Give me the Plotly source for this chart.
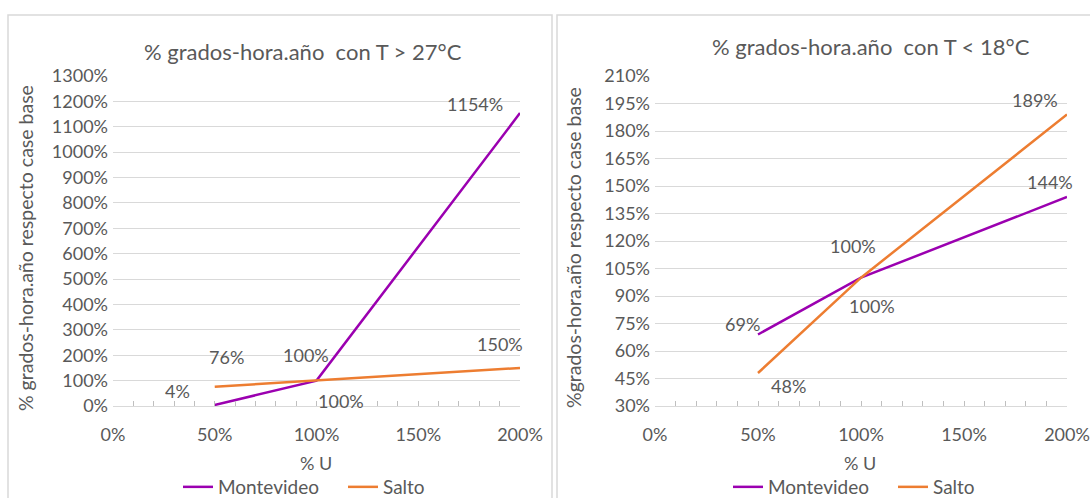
import plotly.graph_objects as go

# ---- data ----
u_levels = [0.5, 1.0, 2.0]
hot_montevideo = [0.04, 1.00, 11.54]
hot_salto = [0.76, 1.00, 1.50]
cold_montevideo = [0.69, 1.00, 1.44]
cold_salto = [0.48, 1.00, 1.89]
series_names = ["Montevideo", "Salto"]
x_ticks = [0, 0.5, 1.0, 1.5, 2.0]
title_left = "% grados-hora.año  con T > 27°C"
title_right = "% grados-hora.año  con T < 18°C"
ytitle_left = "% grados-hora.año respecto case base"
ytitle_right = "%grados-hora.año respecto case base"
xtitle = "% U"

# ---- style ----
W, H = 1090, 498
PURPLE = "#9B00B0"
ORANGE = "#ED7D31"
TXT = "#595959"
GRID = "#D9D9D9"
FONT = "Lato"
FS = 18

def px(x):
    return x / W

def py(y):
    return 1 - y / H

fig = go.Figure()

fig.add_trace(go.Scatter(x=u_levels, y=hot_montevideo, mode="lines", name=series_names[0],
                         line=dict(color=PURPLE, width=2.5), xaxis="x", yaxis="y", legend="legend"))
fig.add_trace(go.Scatter(x=u_levels, y=hot_salto, mode="lines", name=series_names[1],
                         line=dict(color=ORANGE, width=2.5), xaxis="x", yaxis="y", legend="legend"))
fig.add_trace(go.Scatter(x=u_levels, y=cold_montevideo, mode="lines", name=series_names[0],
                         line=dict(color=PURPLE, width=2.5), xaxis="x2", yaxis="y2", legend="legend2"))
fig.add_trace(go.Scatter(x=u_levels, y=cold_salto, mode="lines", name=series_names[1],
                         line=dict(color=ORANGE, width=2.5), xaxis="x2", yaxis="y2", legend="legend2"))

tickfont = dict(family=FONT, size=FS, color=TXT)

def xaxis_cfg(domain, anchor):
    return dict(domain=domain, anchor=anchor, range=[0, 2], tickvals=x_ticks, tickformat=".0%",
                showgrid=False, zeroline=False, showline=True, linecolor=GRID, linewidth=1,
                ticks="inside", ticklen=5, tickcolor="#BFBFBF",
                minor=dict(ticks="inside", dtick=0.1, tick0=0, ticklen=5, tickcolor="#BFBFBF"),
                tickfont=tickfont, ticklabelstandoff=12, fixedrange=True, automargin=False)

def yaxis_cfg(domain, anchor, rng, dtick):
    return dict(domain=domain, anchor=anchor, range=rng, dtick=dtick, tick0=rng[0], tickformat=".0%",
                showgrid=True, gridcolor=GRID, gridwidth=1, zeroline=False, showline=False,
                ticks="", tickfont=tickfont, ticklabelstandoff=4, fixedrange=True, automargin=False)

def legend_cfg(x_left):
    return dict(orientation="h", x=px(x_left), y=py(487), xanchor="left", yanchor="middle",
                font=dict(family=FONT, size=19, color=TXT), bgcolor="rgba(0,0,0,0)",
                itemwidth=30, tracegroupgap=0, entrywidth=120, entrywidthmode="pixels")

ydom = [py(406), py(76)]
fig.update_layout(
    width=W, height=H, autosize=False,
    margin=dict(l=0, r=0, t=0, b=0, pad=0, autoexpand=False),
    paper_bgcolor="white", plot_bgcolor="white",
    font=dict(family=FONT, color=TXT),
    xaxis=xaxis_cfg([px(113), px(520)], "y"),
    yaxis=yaxis_cfg(ydom, "x", [0, 13], 1),
    xaxis2=xaxis_cfg([px(655), px(1067)], "y2"),
    yaxis2=yaxis_cfg(ydom, "x2", [0.3, 2.1], 0.15),
    legend=legend_cfg(178),
    legend2=legend_cfg(728),
)

# panel borders
for x0, x1 in [(8, 552), (557, 1095)]:
    fig.add_shape(type="rect", xref="paper", yref="paper", x0=px(x0), x1=px(x1), y0=py(505), y1=py(15),
                  line=dict(color=GRID, width=1.5), fillcolor="rgba(0,0,0,0)", layer="below")

ann = []
def text_ann(x, y, text, size=FS, angle=0):
    ann.append(dict(xref="paper", yref="paper", x=px(x), y=py(y), text=text, showarrow=False,
                    xanchor="center", yanchor="middle", textangle=angle,
                    font=dict(family=FONT, size=size, color=TXT)))

text_ann(303, 52, title_left, size=22)
text_ann(871, 46, title_right, size=22)
text_ann(25, 248, ytitle_left, size=19.5, angle=-90)
text_ann(573, 248, ytitle_right, size=19.5, angle=-90)
text_ann(316, 463, xtitle)
text_ann(860, 463, xtitle)

# data labels (shift in pixels from point)
def data_labels(xs, ys, xref, yref, shifts):
    for xv, yv, (dx, dy) in zip(xs, ys, shifts):
        ann.append(dict(xref=xref, yref=yref, x=xv, y=yv, text=f"{round(yv*100)}%", showarrow=False,
                        xanchor="center", yanchor="middle", xshift=dx, yshift=dy,
                        font=dict(family=FONT, size=FS, color=TXT)))

data_labels(u_levels, hot_montevideo, "x", "y", [(-37, 14), (-11, 26), (-45, 9)])
data_labels(u_levels, hot_salto, "x", "y", [(12, 30), (24, -20), (-20, 24)])
data_labels(u_levels, cold_montevideo, "x2", "y2", [(-16, 11), (-8, 32), (-17, 15)])
data_labels(u_levels, cold_salto, "x2", "y2", [(30, -13), (11, -28), (-32, 15)])

fig.update_layout(annotations=ann)
fig.write_html("out.html", config={"displayModeBar": False, "staticPlot": True},
               post_script="document.body.style.margin='0px';document.body.style.overflow='hidden';")
